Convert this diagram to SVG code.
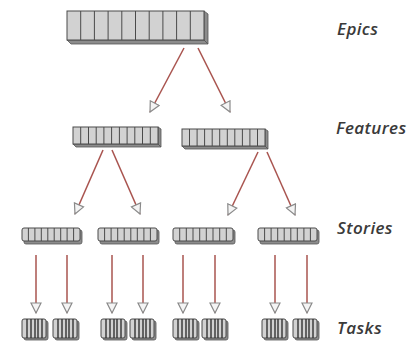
<svg xmlns="http://www.w3.org/2000/svg" width="416" height="342" viewBox="0 0 416 342">
<defs>
<style>
.front{fill:#d2d2d2;stroke:#4a4a4a;stroke-width:1}
.side{fill:#8c8c8c;stroke:#555;stroke-width:0.8}
.cell{stroke:#4a4a4a;stroke-width:1}
.tcell{stroke:#333;stroke-width:1.4}
.conn{stroke:#a9544f;stroke-width:1.5;fill:none;marker-end:url(#hollow)}
.lbl{font-family:"Open Sans","Liberation Sans",sans-serif;font-style:italic;font-weight:600;font-size:17px;letter-spacing:0.4px;fill:#3a3a3a}
</style>
<marker id="hollow" viewBox="0 0 12 12" refX="11" refY="6" markerWidth="12" markerHeight="12" markerUnits="userSpaceOnUse" orient="auto">
<path d="M1,1 L11,6 L1,11 z" fill="#f4f4f4" stroke="#8a8a8a" stroke-width="1.2"/>
</marker>
</defs>
<rect width="416" height="342" fill="#fff"/>

<g id="epic">
<polygon class="side" points="204,11 208,14 208,44 204,40"/>
<polygon class="side" points="67,40 204,40 208,44 71,44"/>
<rect class="front" x="67" y="11" width="137" height="29"/>
<g class="cell">
<line x1="80.7" y1="11" x2="80.7" y2="40"/><line x1="94.4" y1="11" x2="94.4" y2="40"/><line x1="108.1" y1="11" x2="108.1" y2="40"/><line x1="121.8" y1="11" x2="121.8" y2="40"/><line x1="135.5" y1="11" x2="135.5" y2="40"/><line x1="149.2" y1="11" x2="149.2" y2="40"/><line x1="162.9" y1="11" x2="162.9" y2="40"/><line x1="176.6" y1="11" x2="176.6" y2="40"/><line x1="190.3" y1="11" x2="190.3" y2="40"/>
</g>
</g>

<g id="feature-1">
<polygon class="side" points="158,127 161,129 161,147 158,144"/>
<polygon class="side" points="73,144 158,144 161,147 76,147"/>
<rect class="front" x="73" y="127" width="85" height="17"/>
<g class="cell">
<line x1="80.7" y1="127" x2="80.7" y2="144"/><line x1="88.5" y1="127" x2="88.5" y2="144"/><line x1="96.2" y1="127" x2="96.2" y2="144"/><line x1="103.9" y1="127" x2="103.9" y2="144"/><line x1="111.6" y1="127" x2="111.6" y2="144"/><line x1="119.4" y1="127" x2="119.4" y2="144"/><line x1="127.1" y1="127" x2="127.1" y2="144"/><line x1="134.8" y1="127" x2="134.8" y2="144"/><line x1="142.5" y1="127" x2="142.5" y2="144"/><line x1="150.3" y1="127" x2="150.3" y2="144"/>
</g>
</g>

<g id="feature-2">
<polygon class="side" points="265,129 268,131 268,149 265,146"/>
<polygon class="side" points="182,146 265,146 268,149 185,149"/>
<rect class="front" x="182" y="129" width="83" height="17"/>
<g class="cell">
<line x1="189.5" y1="129" x2="189.5" y2="146"/><line x1="197.1" y1="129" x2="197.1" y2="146"/><line x1="204.6" y1="129" x2="204.6" y2="146"/><line x1="212.2" y1="129" x2="212.2" y2="146"/><line x1="219.7" y1="129" x2="219.7" y2="146"/><line x1="227.3" y1="129" x2="227.3" y2="146"/><line x1="234.8" y1="129" x2="234.8" y2="146"/><line x1="242.4" y1="129" x2="242.4" y2="146"/><line x1="249.9" y1="129" x2="249.9" y2="146"/><line x1="257.5" y1="129" x2="257.5" y2="146"/>
</g>
</g>

<g id="story-1">
<rect class="side" x="24" y="230" width="58" height="14" rx="2"/>
<rect class="front" x="22" y="228" width="58" height="13" rx="2"/>
<g class="cell">
<line x1="28.4" y1="228" x2="28.4" y2="241"/><line x1="34.9" y1="228" x2="34.9" y2="241"/><line x1="41.3" y1="228" x2="41.3" y2="241"/><line x1="47.8" y1="228" x2="47.8" y2="241"/><line x1="54.2" y1="228" x2="54.2" y2="241"/><line x1="60.7" y1="228" x2="60.7" y2="241"/><line x1="67.1" y1="228" x2="67.1" y2="241"/><line x1="73.6" y1="228" x2="73.6" y2="241"/>
</g>
</g>

<g id="story-2">
<rect class="side" x="100" y="230" width="59" height="14" rx="2"/>
<rect class="front" x="98" y="228" width="59" height="13" rx="2"/>
<g class="cell">
<line x1="104.6" y1="228" x2="104.6" y2="241"/><line x1="111.1" y1="228" x2="111.1" y2="241"/><line x1="117.7" y1="228" x2="117.7" y2="241"/><line x1="124.2" y1="228" x2="124.2" y2="241"/><line x1="130.8" y1="228" x2="130.8" y2="241"/><line x1="137.3" y1="228" x2="137.3" y2="241"/><line x1="143.9" y1="228" x2="143.9" y2="241"/><line x1="150.4" y1="228" x2="150.4" y2="241"/>
</g>
</g>

<g id="story-3">
<rect class="side" x="175" y="230" width="60" height="14" rx="2"/>
<rect class="front" x="173" y="228" width="60" height="13" rx="2"/>
<g class="cell">
<line x1="179.7" y1="228" x2="179.7" y2="241"/><line x1="186.3" y1="228" x2="186.3" y2="241"/><line x1="193" y1="228" x2="193" y2="241"/><line x1="199.7" y1="228" x2="199.7" y2="241"/><line x1="206.3" y1="228" x2="206.3" y2="241"/><line x1="213" y1="228" x2="213" y2="241"/><line x1="219.7" y1="228" x2="219.7" y2="241"/><line x1="226.3" y1="228" x2="226.3" y2="241"/>
</g>
</g>

<g id="story-4">
<rect class="side" x="260" y="230" width="59" height="14" rx="2"/>
<rect class="front" x="258" y="228" width="59" height="13" rx="2"/>
<g class="cell">
<line x1="264.6" y1="228" x2="264.6" y2="241"/><line x1="271.1" y1="228" x2="271.1" y2="241"/><line x1="277.7" y1="228" x2="277.7" y2="241"/><line x1="284.2" y1="228" x2="284.2" y2="241"/><line x1="290.8" y1="228" x2="290.8" y2="241"/><line x1="297.3" y1="228" x2="297.3" y2="241"/><line x1="303.9" y1="228" x2="303.9" y2="241"/><line x1="310.4" y1="228" x2="310.4" y2="241"/>
</g>
</g>

<g id="task-1"><rect class="side" x="24" y="321" width="24" height="19" rx="2"/><rect class="front" x="22" y="319" width="24" height="19" rx="2"/><g class="tcell"><line x1="27" y1="319" x2="27" y2="338"/><line x1="31" y1="319" x2="31" y2="338"/><line x1="35" y1="319" x2="35" y2="338"/><line x1="38" y1="319" x2="38" y2="338"/><line x1="42" y1="319" x2="42" y2="338"/></g></g>
<g id="task-2"><rect class="side" x="55" y="321" width="24" height="19" rx="2"/><rect class="front" x="53" y="319" width="24" height="19" rx="2"/><g class="tcell"><line x1="58" y1="319" x2="58" y2="338"/><line x1="62" y1="319" x2="62" y2="338"/><line x1="66" y1="319" x2="66" y2="338"/><line x1="69" y1="319" x2="69" y2="338"/><line x1="73" y1="319" x2="73" y2="338"/></g></g>
<g id="task-3"><rect class="side" x="103" y="321" width="24" height="19" rx="2"/><rect class="front" x="101" y="319" width="24" height="19" rx="2"/><g class="tcell"><line x1="106" y1="319" x2="106" y2="338"/><line x1="110" y1="319" x2="110" y2="338"/><line x1="114" y1="319" x2="114" y2="338"/><line x1="117" y1="319" x2="117" y2="338"/><line x1="121" y1="319" x2="121" y2="338"/></g></g>
<g id="task-4"><rect class="side" x="132" y="321" width="24" height="19" rx="2"/><rect class="front" x="130" y="319" width="24" height="19" rx="2"/><g class="tcell"><line x1="135" y1="319" x2="135" y2="338"/><line x1="139" y1="319" x2="139" y2="338"/><line x1="143" y1="319" x2="143" y2="338"/><line x1="146" y1="319" x2="146" y2="338"/><line x1="150" y1="319" x2="150" y2="338"/></g></g>
<g id="task-5"><rect class="side" x="175" y="321" width="24" height="19" rx="2"/><rect class="front" x="173" y="319" width="24" height="19" rx="2"/><g class="tcell"><line x1="178" y1="319" x2="178" y2="338"/><line x1="182" y1="319" x2="182" y2="338"/><line x1="186" y1="319" x2="186" y2="338"/><line x1="189" y1="319" x2="189" y2="338"/><line x1="193" y1="319" x2="193" y2="338"/></g></g>
<g id="task-6"><rect class="side" x="204" y="321" width="24" height="19" rx="2"/><rect class="front" x="202" y="319" width="24" height="19" rx="2"/><g class="tcell"><line x1="207" y1="319" x2="207" y2="338"/><line x1="211" y1="319" x2="211" y2="338"/><line x1="215" y1="319" x2="215" y2="338"/><line x1="218" y1="319" x2="218" y2="338"/><line x1="222" y1="319" x2="222" y2="338"/></g></g>
<g id="task-7"><rect class="side" x="264" y="321" width="24" height="19" rx="2"/><rect class="front" x="262" y="319" width="24" height="19" rx="2"/><g class="tcell"><line x1="267" y1="319" x2="267" y2="338"/><line x1="271" y1="319" x2="271" y2="338"/><line x1="275" y1="319" x2="275" y2="338"/><line x1="278" y1="319" x2="278" y2="338"/><line x1="282" y1="319" x2="282" y2="338"/></g></g>
<g id="task-8"><rect class="side" x="295" y="321" width="24" height="19" rx="2"/><rect class="front" x="293" y="319" width="24" height="19" rx="2"/><g class="tcell"><line x1="298" y1="319" x2="298" y2="338"/><line x1="302" y1="319" x2="302" y2="338"/><line x1="306" y1="319" x2="306" y2="338"/><line x1="309" y1="319" x2="309" y2="338"/><line x1="313" y1="319" x2="313" y2="338"/></g></g>

<g id="connectors">
<line class="conn" x1="184" y1="48" x2="150" y2="112"/>
<line class="conn" x1="198" y1="48" x2="230" y2="112"/>
<line class="conn" x1="103" y1="150" x2="75" y2="214"/>
<line class="conn" x1="112" y1="150" x2="140" y2="214"/>
<line class="conn" x1="258" y1="152" x2="228" y2="215"/>
<line class="conn" x1="267" y1="152" x2="295" y2="215"/>
<line class="conn" x1="36" y1="255" x2="36" y2="313"/>
<line class="conn" x1="67" y1="255" x2="67" y2="313"/>
<line class="conn" x1="112" y1="255" x2="112" y2="313"/>
<line class="conn" x1="143" y1="255" x2="143" y2="313"/>
<line class="conn" x1="183" y1="255" x2="183" y2="313"/>
<line class="conn" x1="215" y1="255" x2="215" y2="313"/>
<line class="conn" x1="275" y1="255" x2="275" y2="313"/>
<line class="conn" x1="307" y1="255" x2="307" y2="313"/>
</g>

<g id="labels">
<text class="lbl" x="337" y="35">Epics</text>
<text class="lbl" x="336" y="134">Features</text>
<text class="lbl" x="337" y="234">Stories</text>
<text class="lbl" x="337" y="334">Tasks</text>
</g>
</svg>
